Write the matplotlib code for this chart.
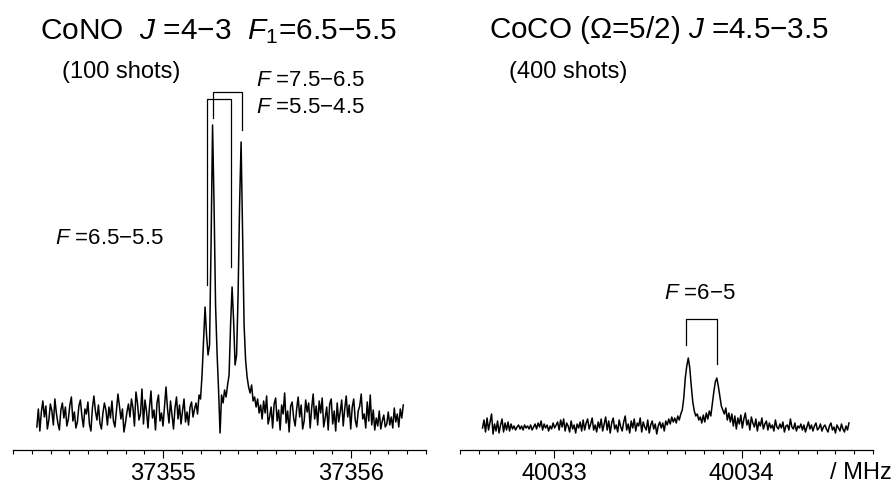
import numpy as np
import matplotlib
matplotlib.use('Agg')
import matplotlib.pyplot as plt
from matplotlib.ticker import MultipleLocator

plt.rcParams['font.family'] = ['Liberation Sans', 'DejaVu Sans']
plt.rcParams['mathtext.fontset'] = 'custom'
plt.rcParams['mathtext.rm'] = 'Liberation Sans'
plt.rcParams['mathtext.it'] = 'Liberation Sans:italic'

# ---- CoNO J=4-3 F1=6.5-5.5 (100 shots) ----
cono_f0, cono_step = 37354.327, 0.008   # MHz
cono_y = [
    -12, 6, -16, 3, 14, -2, 9, -14, -5, 11, 4, -10, 16, 2, -8, -15, 5, 12, -3, 8, -11, -4, 10, 18, -6,
    3, -13, -7, 9, 15, -1, -12, 6, 1, 13, -9, -16, 7, 19, 4, -5, 10, -8, -14, 2, 12, 5, -10, 8, -3,
    14, -6, -12, 4, 21, 9, -4, 6, -17, -8, 3, 11, -2, 16, 7, -11, 23, 12, -5, 1, 26, -9, 15, 4, -13,
    8, 24, -3, 5, -15, 12, 20, -6, 2, -11, 9, 28, 6, -8, 14, 0, -14, 7, 18, -4, 10, -9, 4, 16, -7,
    3, -10, 8, 13, -2, 6, 12, 1, 20, 16, 40,
    75, 108, 80, 60, 70, 170, 290, 210, 110, 62, 25, -18, 20, 12, 25, 18, 30, 40, 90, 128,
    95, 50, 60, 120, 210, 273, 180, 90, 55, 38, 28, 22, 30, 14, 18, 8, 16, 2, 10,
    -4, 14, 2, 19, -9, -2, 8, -13, 11, 17, -6, 5, -15, 10, 1, 22, -8, 4, -17, 9, 13, -3, -11, 6, 18,
    -2, 10, -14, -6, 15, 3, 12, -13, 7, 21, -4, 9, -10, 14, 2, 17, -12, -3, 8, -15, 11, 16, -9, 4, -16,
    12, -7, 3, 15, -11, 6, 19, -2, 10, -14, 8, 16, -5, -12, 4, 9, 21, -4, 1, -13, 13, -6, 20, -10, 5,
    -15, -3, -11, 4, -14, -6, 0, -12, -9, 3, -10, -2, -13, 7, -7, 1, -12, 6, -3, 10,
]
# hyperfine doublets (Doppler pairs): (low, high, top, low-leg end, high-leg end)
cono_hf_outer = (37355.268, 37355.418, 323, 297, 285)   # F=7.5-6.5 / 5.5-4.5
cono_hf_inner = (37355.232, 37355.361, 316, 130, 148)   # F=6.5-5.5

# ---- CoCO (Omega=5/2) J=4.5-3.5 (400 shots) ----
coco_f0, coco_step = 40032.620, 0.008
coco_y = [
    0, 8, -4, 10, -2, 6, 14, -6, 4, -3, 7, -5, 3, 9, -4, 5, -2, 6, -3, 4, -1, 2, -2, 1, 3,
    -1, 2, -2, 3, 0, 2, -1, 3, -2, 1, 4, -1, 5, 1, 7, -2, 4, 0, 3, -3, 2, -1, 5, 0, 3,
    6, -2, 8, 1, 9, -3, 5, 2, -4, 7, -1, 3, -5, 4, 0, 6, -3, 8, -2, 5, 9, -1, 4, 10, -2,
    3, -4, 6, 0, 9, -3, 4, 11, -2, 7, -5, 5, 10, -1, 3, -4, 8, 1, -3, 6, 12, -2, 4, -5, 7,
    0, 9, -3, 5, 2, 10, -4, 6, 1, -2, 8, -5, 3, 7, -1, 4, -6, 2, 6, 0, 5, -3, 7, 3, 9,
    4, 11, 6, 10, 5, 12, 8, 14, 18, 30, 50,
    62, 70, 60, 42, 26, 17, 12, 14, 8, 11, 5, 13, 6, 15, 9, 17, 12, 24, 36, 46,
    50, 42, 32, 22, 18, 14, 20, 8, 15,
    6, 14, 2, 12, -1, 10, 4, 13, 0, 9, 15, 3, 8, -2, 11, 5, 1, 9, -3, 6, 2, 10, -1, 4, 7,
    -2, 5, 0, 3, -3, 8, 1, -1, 4, 0, 6, -4, 2, 3, -2, 9, 1, -1, 5, -3, 2, 0, 4, -2, 3,
    -4, 1, 6, -1, 3, -3, 2, 5, -2, 0, 4, -3, 1, 3, -1, -4, 2, 5, -2, 1, -5, 3, 0, -3, 4, -1, -4, 2, -2, 5,
]
coco_hf = (40033.703, 40033.868, 109, 83, 64)   # F=6-5

cono_x = cono_f0 + cono_step * np.arange(len(cono_y))
coco_x = coco_f0 + coco_step * np.arange(len(coco_y))

W, H = 896, 483
fig = plt.figure(figsize=(W / 100, H / 100), dpi=100)
axL = fig.add_axes([13 / W, 33 / H, 413 / W, 450 / H])
axR = fig.add_axes([460 / W, 33 / H, 413 / W, 450 / H])

def style(ax, xlim, ylim):
    ax.set_xlim(*xlim); ax.set_ylim(*ylim)
    for s in ('left', 'right', 'top'):
        ax.spines[s].set_visible(False)
    ax.spines['bottom'].set_linewidth(0.9)
    ax.set_yticks([])
    ax.xaxis.set_major_locator(MultipleLocator(1))
    ax.xaxis.set_minor_locator(MultipleLocator(0.1))
    ax.ticklabel_format(axis='x', useOffset=False, style='plain')
    ax.tick_params(axis='x', which='major', direction='out', length=5.5, width=0.8,
                   labelsize=17, pad=3.5)
    ax.tick_params(axis='x', which='minor', direction='out', length=2.8, width=0.8)
    ax.patch.set_visible(False)

def bracket(ax, hf):
    lo, hi, top, blo, bhi = hf
    ax.plot([lo, lo, hi, hi], [blo, top, top, bhi], color='black', lw=0.9)

style(axL, (37354.2, 37356.4), (-35, 415))
style(axR, (40032.5, 40034.7), (-22, 428))

axL.plot(cono_x, cono_y, color='black', lw=1.1)
axR.plot(coco_x, coco_y, color='black', lw=1.1)

bracket(axL, cono_hf_outer)
bracket(axL, cono_hf_inner)
bracket(axR, coco_hf)

ann = 16
axL.text(37355.496, 329, '$F$ =7.5\u22126.5', fontsize=ann, va='baseline')
axL.text(37355.496, 302, '$F$ =5.5\u22124.5', fontsize=ann, va='baseline')
axL.text(37354.425, 171, '$F$ =6.5\u22125.5', fontsize=ann, va='baseline')
axR.text(40033.776, 129, '$F$ =6\u22125', fontsize=ann, va='baseline', ha='center')

def fy(px):
    return 1 - px / H

fig.text(40 / W, fy(39), 'CoNO  $J$ =4\u22123  $F_1$=6.5\u22125.5', fontsize=21.5, va='baseline')
fig.text(62 / W, fy(78), '(100 shots)', fontsize=17, va='baseline')
fig.text(489 / W, fy(38), 'CoCO (\u03a9=5/2) $J$ =4.5\u22123.5', fontsize=21.3, va='baseline')
fig.text(509 / W, fy(78), '(400 shots)', fontsize=17, va='baseline')
fig.text(830 / W, fy(479), '/ MHz', fontsize=17, va='baseline')

fig.savefig('out.png', dpi=100)
